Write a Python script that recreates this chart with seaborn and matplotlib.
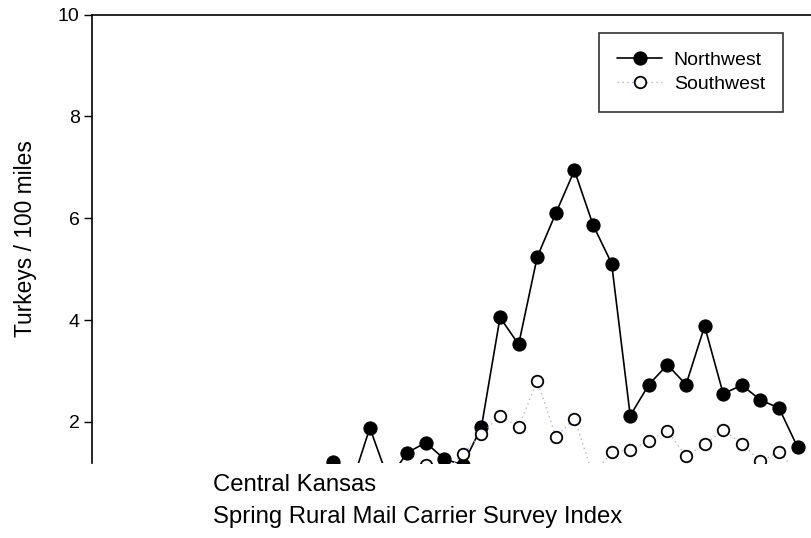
import numpy as np
import pandas as pd
import matplotlib
matplotlib.use("Agg")
import matplotlib.pyplot as plt
import seaborn as sns

# Years are not labelled on the visible part of the chart; one point per year
years = list(range(1985, 2011))
# Northwest index (values under ~1.2 are cut off in the picture, estimated from the line slopes)
northwest = [1.20, 0.75, 1.88, 0.86, 1.39, 1.59, 1.27, 1.15, 1.90, 4.05,
             3.52, 5.24, 6.10, 6.94, 5.87, 5.11, 2.12, 2.73, 3.12, 2.73,
             3.88, 2.55, 2.72, 2.43, 2.27, 1.50]
# Southwest index (NaN = not visible at all)
southwest = [np.nan, np.nan, np.nan, np.nan, np.nan, 1.15, 1.00, 1.36, 1.76, 2.12,
             1.90, 2.81, 1.71, 2.06, 0.96, 1.41, 1.44, 1.63, 1.82, 1.32,
             1.56, 1.84, 1.57, 1.22, 1.41, 1.00]

df = pd.DataFrame({"Year": years, "Northwest": northwest, "Southwest": southwest})

sns.set_style("white")
plt.rcParams['font.family'] = ['Liberation Sans', 'DejaVu Sans']
plt.rcParams['text.color'] = 'black'
plt.rcParams['axes.labelcolor'] = 'black'
plt.rcParams['ytick.color'] = 'black'

fig = plt.figure(figsize=(8.11, 5.38), dpi=100)
ax = fig.add_axes([92 / 811, 1 - 463 / 538, 1 - 92 / 811, (463 - 14.7) / 538])

sns.lineplot(data=df, x="Year", y="Northwest", ax=ax, color="black", linewidth=1.2,
             marker="o", markersize=9.5, markerfacecolor="black",
             markeredgecolor="black", label="Northwest")
sns.lineplot(data=df, x="Year", y="Southwest", ax=ax, color="#b8b0e6", linewidth=1.0,
             linestyle=(0, (1, 2.5)), marker="o", markersize=8.3,
             markerfacecolor="white", markeredgecolor="black", markeredgewidth=1.3,
             label="Southwest")

first = years[0]
ax.set_xlim(first - 12.94, first + 25.72)
ax.set_ylim(1.19, 10)
ax.set_yticks([2, 4, 6, 8, 10])
ax.set_xticks([])
ax.set_xlabel("")
ax.set_ylabel("Turkeys / 100 miles", fontsize=16.4, labelpad=15)
ax.tick_params(axis="y", direction="out", length=6, width=1, labelsize=14,
               left=True, color="black", labelcolor="black", pad=3)

for side in ["right", "bottom"]:
    ax.spines[side].set_visible(False)
for side in ["left", "top"]:
    ax.spines[side].set_color("black")
    ax.spines[side].set_linewidth(1.2)

leg = ax.legend(loc="upper left", bbox_to_anchor=((599 - 92) / 719, 0.960), borderaxespad=0,
                fontsize=14, frameon=True, fancybox=False, handlelength=2.27,
                borderpad=0.95, labelspacing=0.35, handletextpad=0.62)
leg.get_frame().set_edgecolor("black")
leg.get_frame().set_linewidth(1.2)

fig.text(213 / 811, 1 - 485 / 538, "Central Kansas", fontsize=17.2, va="center", ha="left")
fig.text(213 / 811, 1 - 517 / 538, "Spring Rural Mail Carrier Survey Index",
         fontsize=17.2, va="center", ha="left")

fig.savefig("out.png", dpi=100)
